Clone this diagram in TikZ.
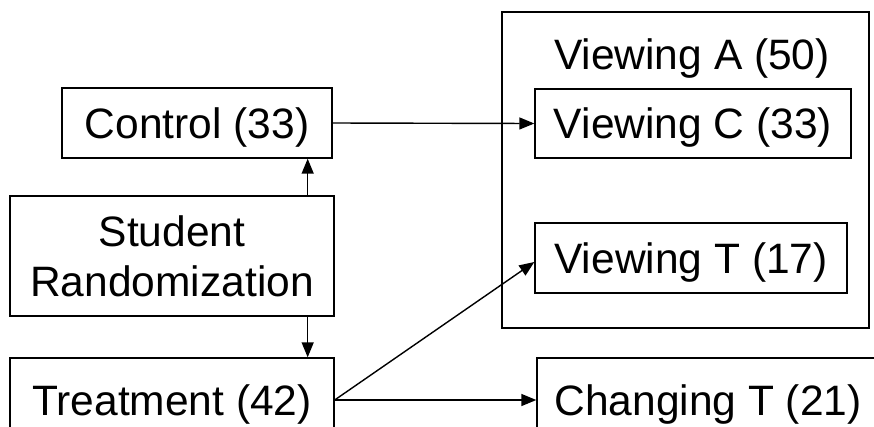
\documentclass[tikz,border=0pt]{standalone}
\usepackage{fontspec}
\setmainfont{Liberation Sans}
\usetikzlibrary{arrows.meta,positioning}

\tikzset{
  box/.style={draw,line width=0.8pt,inner sep=0pt,align=center,text depth=0pt,
    font=\fontsize{24.2}{28.5}\selectfont},
  arr/.style={line width=0.8pt,-{Triangle[length=0.3cm,width=0.24cm]}}
}

\begin{document}
\begin{tikzpicture}[x=0.02cm,y=-0.02cm]
  \useasboundingbox (0,0) rectangle (874,426);
  % outer group
  \draw[line width=0.8pt] (502,12) rectangle (869,328);
  \node[font=\fontsize{24.2}{28.5}\selectfont] (viewa) at (692,59) {Viewing A (50)};
  % boxes
  \node[box,minimum width=5.4cm,minimum height=1.4cm] (ctrl) at (197,123) {Control (33)};
  \node[box,minimum width=6.48cm,minimum height=2.4cm] (stud) at (172,256) {Student\\Randomization};
  \node[box,minimum width=6.48cm,minimum height=1.68cm] (treat) at (172,400) {Treatment (42)};
  \node[box,minimum width=6.32cm,minimum height=1.38cm] (viewc) at (693,123.5) {Viewing C (33)};
  \node[box,minimum width=6.24cm,minimum height=1.4cm] (viewt) at (691,258) {Viewing T (17)};
  \node[box,minimum width=6.84cm,minimum height=1.68cm] (chg) at (708,400) {Changing T (21)};
  % arrows
  \coordinate (up) at ([xshift=-0.54cm]stud.north east);
  \coordinate (down) at ([xshift=-0.54cm]stud.south east);
  \draw[arr] (up) -- (up |- ctrl.south);
  \draw[arr] (down) -- (down |- treat.north);
  \draw[arr] (ctrl.east) -- (viewc.west);
  \draw[arr] (treat.east) -- ([yshift=-0.08cm]viewt.west);
  \draw[arr] (treat.east) -- (chg.west);
\end{tikzpicture}
\end{document}
